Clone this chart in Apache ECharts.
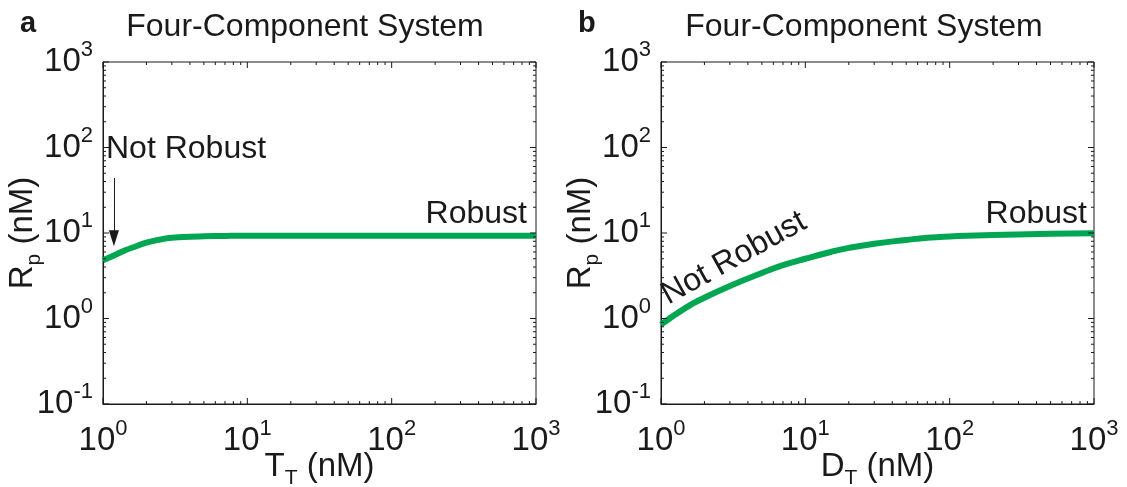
<!DOCTYPE html>
<html>
<head>
<meta charset="utf-8">
<script src="https://cdn.jsdelivr.net/npm/echarts@6/dist/echarts.min.js"></script>
<style>
html, body { margin: 0; padding: 0; background: #fff; }
#grafico { width: 1127px; height: 487px; }
</style>
</head>
<body>
<div id="grafico"></div>
<script>
// panel a: Rp vs T_T
var leftX = [1, 1.2, 1.4, 1.7, 2, 2.5, 3, 4, 5, 7, 10, 30, 100, 300, 1000];
var leftY = [4.8, 5.5, 6.2, 7.0, 7.7, 8.4, 8.8, 9.05, 9.15, 9.25, 9.3, 9.3, 9.3, 9.3, 9.3];
// panel b: Rp vs D_T
var rightX = [1, 1.5, 2, 3, 5, 7, 10, 15, 20, 30, 50, 70, 100, 200, 500, 1000];
var rightY = [0.85, 1.35, 1.75, 2.4, 3.4, 4.2, 5.0, 6.0, 6.7, 7.5, 8.3, 8.8, 9.1, 9.5, 9.8, 9.9];

var xMajor = [1, 10, 100, 1000];
var xMinor = [2, 3, 4, 5, 6, 7, 8, 9, 20, 30, 40, 50, 60, 70, 80, 90, 200, 300, 400, 500, 600, 700, 800, 900];
var yMajor = [0.1, 1, 10, 100, 1000];
var yMinor = [0.2, 0.3, 0.4, 0.5, 0.6, 0.7, 0.8, 0.9, 2, 3, 4, 5, 6, 7, 8, 9, 20, 30, 40, 50, 60, 70, 80, 90, 200, 300, 400, 500, 600, 700, 800, 900];

var arrowFrom = [1.19, 44];
var arrowTo = [1.19, 8.7];

var green = '#00a651';
var ink = '#1a1a1a';
var font = 'Liberation Sans, Arial, sans-serif';

var dom = document.getElementById("grafico");
var myChart = echarts.init(dom);

function pow10(v) {
    var e = Math.round(Math.log10(v));
    return '{b|10}{s|' + e + '}';
}
var powRich = {
    b: { fontSize: 33, color: ink, fontFamily: font },
    s: { fontSize: 22, color: ink, fontFamily: font, padding: [0, 0, 24, 0] }
};
var nameRich = {
    m: { fontSize: 33, color: ink, fontFamily: font },
    sub: { fontSize: 21, color: ink, fontFamily: font, padding: [24, 0, 0, 0] }
};

var tickData = [];
xMajor.forEach(function (v) { tickData.push([v, 1, 0, 6]); });
xMinor.forEach(function (v) { tickData.push([v, 1, 0, 3]); });
yMajor.forEach(function (v) { tickData.push([1, v, 1, 6]); });
yMinor.forEach(function (v) { tickData.push([1, v, 1, 3]); });

function renderTick(params, api) {
    var kind = api.value(2), len = api.value(3);
    var st = { stroke: ink, lineWidth: 1 };
    var a, b;
    if (kind === 0) {
        a = api.coord([api.value(0), 0.1]);
        b = api.coord([api.value(0), 1000]);
        return { type: 'group', children: [
            { type: 'line', shape: { x1: a[0], y1: a[1], x2: a[0], y2: a[1] - len }, style: st },
            { type: 'line', shape: { x1: b[0], y1: b[1], x2: b[0], y2: b[1] + len }, style: st }
        ] };
    }
    a = api.coord([1, api.value(1)]);
    b = api.coord([1000, api.value(1)]);
    return { type: 'group', children: [
        { type: 'line', shape: { x1: a[0], y1: a[1], x2: a[0] + len, y2: a[1] }, style: st },
        { type: 'line', shape: { x1: b[0], y1: b[1], x2: b[0] - len, y2: b[1] }, style: st }
    ] };
}

function xAx(i, sym) {
    return {
        type: 'log', logBase: 10, gridIndex: i, min: 1, max: 1000,
        name: '{m|' + sym + '}{sub|T}{m| (nM)}', nameLocation: 'middle', nameGap: 40,
        nameMoveOverlap: false,
        nameTextStyle: { rich: nameRich },
        axisLine: { show: true, lineStyle: { color: ink, width: 1 } },
        axisTick: { show: false },
        splitLine: { show: false },
        axisLabel: { formatter: pow10, rich: powRich, margin: 14, showMinLabel: true, showMaxLabel: true }
    };
}
function yAx(i) {
    return {
        type: 'log', logBase: 10, gridIndex: i, min: 0.1, max: 1000,
        name: '{m|R}{sub|p}{m| (nM)}', nameLocation: 'middle', nameGap: 58,
        nameMoveOverlap: false,
        nameTextStyle: { rich: nameRich },
        axisLine: { show: true, lineStyle: { color: ink, width: 1 } },
        axisTick: { show: false },
        splitLine: { show: false },
        axisLabel: { formatter: pow10, rich: powRich, margin: 10, showMinLabel: true, showMaxLabel: true }
    };
}

function txt(x, y, s, extra) {
    var o = { type: 'text', x: x, y: y, style: { text: s, fontSize: 32, fontFamily: font, fill: ink, textAlign: 'left', textVerticalAlign: 'middle' } };
    if (extra) { for (var k in extra) o.style[k] = extra[k]; }
    return o;
}

option = {
    backgroundColor: '#fff',
    animation: false,
    grid: [
        { left: 103, top: 62, width: 433, height: 342, show: true, borderColor: ink, borderWidth: 1, containLabel: false, outerBoundsMode: 'none' },
        { left: 661, top: 62, width: 433, height: 342, show: true, borderColor: ink, borderWidth: 1, containLabel: false, outerBoundsMode: 'none' }
    ],
    xAxis: [xAx(0, 'T'), xAx(1, 'D')],
    yAxis: [yAx(0), yAx(1)],
    graphic: [
        txt(20, 24, 'a', { fontWeight: 'bold', fontSize: 29 }),
        txt(578, 24, 'b', { fontWeight: 'bold', fontSize: 29 }),
        txt(305, 27, 'Four-Component System', { textAlign: 'center' }),
        txt(864, 27, 'Four-Component System', { textAlign: 'center' }),
        txt(106, 149, 'Not Robust'),
        txt(527, 214, 'Robust', { textAlign: 'right' }),
        txt(1087, 214, 'Robust', { textAlign: 'right' }),
        { type: 'text', x: 664, y: 297, rotation: 29 * Math.PI / 180,
          style: { text: 'Not Robust', fontSize: 32, fontFamily: font, fill: ink, textAlign: 'left', textVerticalAlign: 'middle' } }
    ],
    series: [
        {
            type: 'line', xAxisIndex: 0, yAxisIndex: 0, smooth: true, showSymbol: false,
            data: leftX.map(function (x, i) { return [x, leftY[i]]; }),
            lineStyle: { color: green, width: 6 },
            markLine: {
                silent: true, symbol: ['none', 'triangle'], symbolSize: [10, 16],
                label: { show: false },
                lineStyle: { color: ink, width: 1, type: 'solid' },
                data: [[{ coord: arrowFrom }, { coord: arrowTo }]]
            }
        },
        {
            type: 'line', xAxisIndex: 1, yAxisIndex: 1, smooth: true, showSymbol: false,
            data: rightX.map(function (x, i) { return [x, rightY[i]]; }),
            lineStyle: { color: green, width: 6 }
        },
        { type: 'custom', xAxisIndex: 0, yAxisIndex: 0, data: tickData, renderItem: renderTick, silent: true, z: 5 },
        { type: 'custom', xAxisIndex: 1, yAxisIndex: 1, data: tickData, renderItem: renderTick, silent: true, z: 5 }
    ]
};
if (option && typeof option === "object") {
    myChart.setOption(option, true);
}
</script>
</body>
</html>
